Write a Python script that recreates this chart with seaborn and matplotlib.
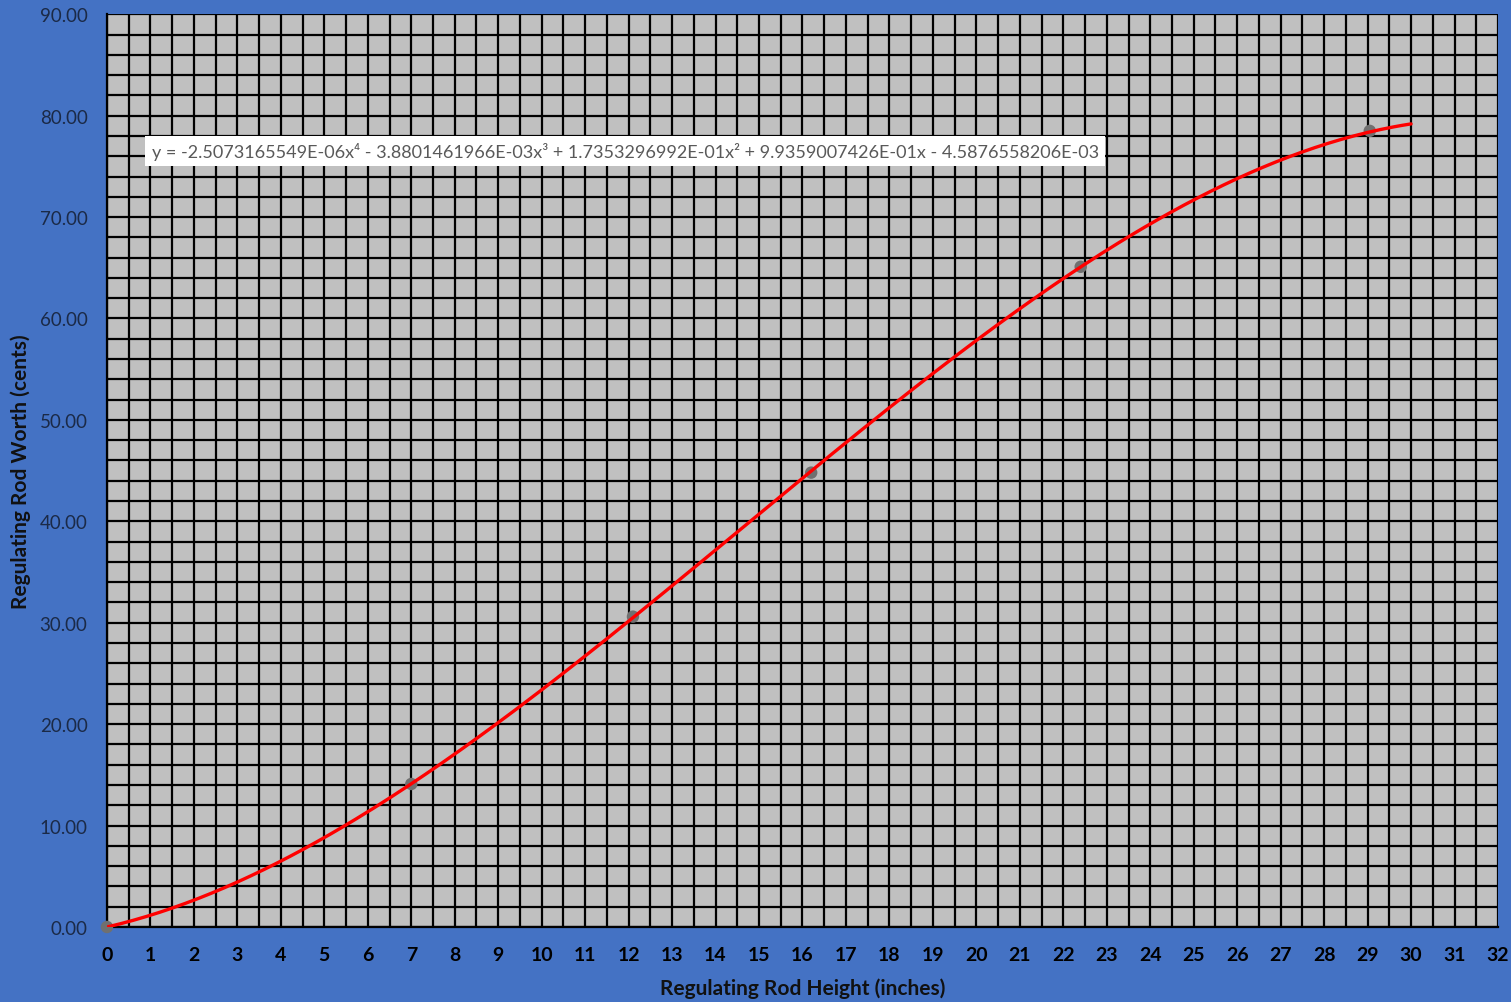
import numpy as np
import pandas as pd
import matplotlib
matplotlib.use("Agg")
import matplotlib.pyplot as plt
import seaborn as sns
from matplotlib.ticker import MultipleLocator, FormatStrFormatter

# Measured rod positions (inches) and integrated worth (cents)
rod_height = [0.0, 7.0, 12.1, 16.2, 22.4, 29.05]
rod_worth = [0.0, 14.1, 30.6, 44.8, 65.1, 78.5]

# 4th-order polynomial trendline coefficients (highest power first)
trend_coeffs = [-2.5073165549e-06, -3.8801461966e-03, 1.7353296992e-01,
                9.9359007426e-01, -4.5876558206e-03]
trend_label = ("y = -2.5073165549E-06x\u2074 - 3.8801461966E-03x\u00b3 + "
               "1.7353296992E-01x\u00b2 + 9.9359007426E-01x - 4.5876558206E-03")

x_ticks = list(range(0, 33))
y_ticks = [0, 10, 20, 30, 40, 50, 60, 70, 80, 90]

BLUE = "#4472C4"
PLOT_BG = "#C0C0C0"

sns.set_style("white")
plt.rcParams["font.family"] = ["Lato", "DejaVu Sans"]

fig = plt.figure(figsize=(15.11, 10.03), dpi=100, facecolor=BLUE)
ax = fig.add_axes([0.0708, 0.0748, 0.9206, 0.910])
ax.set_facecolor(PLOT_BG)

# Dense grid: every 0.5 inch and every 2 cents
ax.set_xlim(0, 32)
ax.set_ylim(0, 90)
ax.xaxis.set_major_locator(MultipleLocator(1))
ax.xaxis.set_minor_locator(MultipleLocator(0.5))
ax.yaxis.set_major_locator(MultipleLocator(10))
ax.yaxis.set_minor_locator(MultipleLocator(2))
ax.set_xticks(x_ticks)
ax.set_yticks(y_ticks)
ax.yaxis.set_major_formatter(FormatStrFormatter("%.2f"))
ax.grid(which="both", color="black", linewidth=1.6)
ax.set_axisbelow(True)

ax.tick_params(axis="x", which="major", length=7, width=1.5, color="black",
               labelsize=14, labelcolor="black", pad=7, direction="out")
ax.tick_params(axis="y", which="major", length=7, width=1.5, color="black",
               labelsize=13.5, labelcolor="#1B2A47", pad=7, direction="out")
ax.tick_params(which="minor", length=0)
for lbl in ax.get_xticklabels():
    lbl.set_fontweight("bold")

for side in ["top", "right"]:
    ax.spines[side].set_visible(False)
for side in ["left", "bottom"]:
    ax.spines[side].set_color("black")
    ax.spines[side].set_linewidth(1.6)

# Trendline over 0-30 inches
xs = np.linspace(0, 30, 300)
curve = pd.DataFrame({"height": xs, "worth": np.polyval(trend_coeffs, xs)})
sns.lineplot(data=curve, x="height", y="worth", color="red", linewidth=2.4,
             ax=ax, zorder=3)

pts = pd.DataFrame({"height": rod_height, "worth": rod_worth})
sns.scatterplot(data=pts, x="height", y="worth", color="#707070", s=80,
                edgecolor="none", ax=ax, zorder=2.8, clip_on=False)

ax.text(1.03, 76.5, trend_label, fontsize=13, color="#595959",
        va="center", ha="left", zorder=5,
        bbox=dict(facecolor="white", edgecolor="none", boxstyle="square,pad=0.35"))

ax.set_xlabel("Regulating Rod Height (inches)", fontsize=15, fontweight="bold",
              color="#111111", labelpad=10)
ax.set_ylabel("Regulating Rod Worth (cents)", fontsize=15, fontweight="bold",
              color="#111111", labelpad=6)

fig.savefig("out.png", dpi=100, facecolor=BLUE)
